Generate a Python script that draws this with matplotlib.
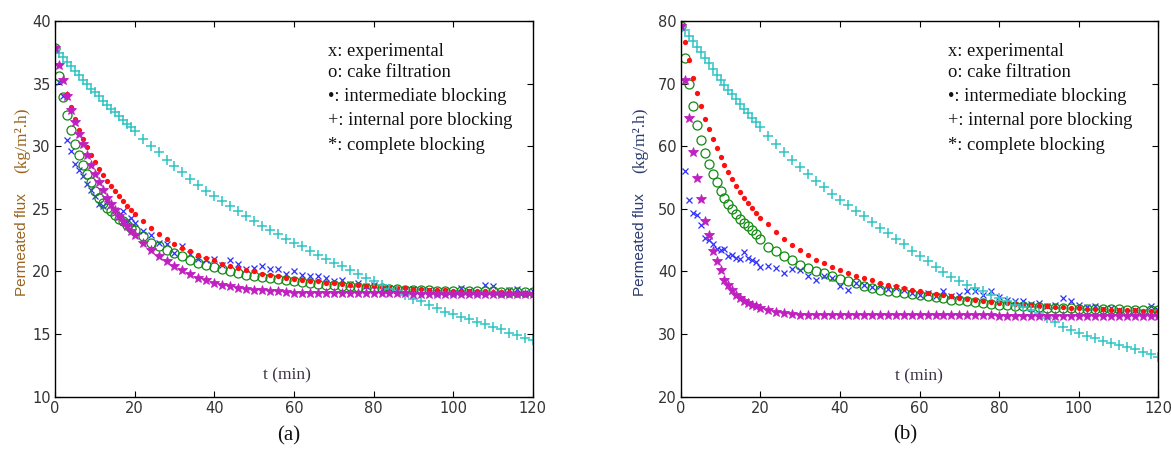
import matplotlib
matplotlib.use("Agg")
import matplotlib.pyplot as plt

# sampling times (min): every minute up to 20, then every 2 minutes
t = list(range(0, 21)) + list(range(22, 121, 2))

# ---- panel (a) ----
exp_a = [37.8, 35.1, 34.0, 30.5, 29.6, 28.6, 28.1, 27.6, 27.0, 26.5, 26.0,
         25.4, 25.2, 25.6, 25.3, 24.9, 24.5, 24.8, 24.0, 24.3, 23.9,
         23.2, 22.9, 22.3, 22.2, 21.5, 22.0, 21.4, 21.0, 20.9, 21.0,
         20.5, 20.9, 20.6, 20.2, 20.3, 20.45, 20.2, 20.2, 19.8, 20.0,
         19.7, 19.6, 19.6, 19.5, 19.2, 19.3, 19.0, 19.1, 18.8, 18.9,
         18.6, 18.7, 18.6, 18.5, 18.6, 18.4, 18.5, 18.3, 18.4, 18.3,
         18.7, 18.4, 18.3, 18.9, 18.8, 18.3, 18.5, 18.6, 18.3, 18.4]
cake_a = [37.8, 35.6, 33.9, 32.5, 31.3, 30.2, 29.3, 28.5, 27.8, 27.1, 26.4,
          25.9, 25.5, 25.1, 24.8, 24.5, 24.2, 24.0, 23.7, 23.5, 23.3,
          22.8, 22.3, 22.0, 21.7, 21.45, 21.2, 20.9, 20.7, 20.5, 20.35,
          20.2, 20.05, 19.9, 19.75, 19.6, 19.55, 19.45, 19.4, 19.3, 19.2,
          19.15, 19.1, 19.0, 18.95, 18.9, 18.85, 18.8, 18.75, 18.7, 18.7,
          18.65, 18.6, 18.6, 18.55, 18.5, 18.5, 18.5, 18.45, 18.45, 18.4,
          18.4, 18.4, 18.4, 18.4, 18.4, 18.35, 18.35, 18.35, 18.35, 18.35]
inter_a = [37.8, 36.5, 35.3, 34.2, 33.1, 32.2, 31.3, 30.6, 29.9, 29.3, 28.7,
           28.2, 27.7, 27.2, 26.8, 26.4, 26.0, 25.6, 25.2, 24.9, 24.6,
           24.0, 23.5, 23.0, 22.6, 22.2, 21.9, 21.6, 21.3, 21.1, 20.9,
           20.6, 20.45, 20.3, 20.1, 20.0, 19.8, 19.7, 19.6, 19.5, 19.4,
           19.3, 19.25, 19.2, 19.1, 19.05, 19.0, 18.95, 18.9, 18.85, 18.8,
           18.75, 18.7, 18.7, 18.65, 18.6, 18.6, 18.55, 18.5, 18.5, 18.45,
           18.45, 18.4, 18.4, 18.4, 18.35, 18.35, 18.35, 18.3, 18.3, 18.3]
pore_a = [37.8, 37.4, 37.1, 36.7, 36.4, 36.0, 35.7, 35.3, 35.0, 34.6, 34.3,
          34.0, 33.6, 33.3, 33.0, 32.7, 32.4, 32.1, 31.8, 31.5, 31.2,
          30.6, 30.0, 29.5, 28.9, 28.4, 27.9, 27.4, 26.9, 26.4, 26.0,
          25.6, 25.2, 24.8, 24.4, 24.0, 23.6, 23.3, 23.0, 22.6, 22.3,
          22.0, 21.6, 21.3, 21.0, 20.7, 20.4, 20.1, 19.8, 19.5, 19.2,
          18.9, 18.6, 18.4, 18.1, 17.8, 17.6, 17.3, 17.1, 16.8, 16.6,
          16.4, 16.2, 16.0, 15.8, 15.6, 15.4, 15.1, 14.9, 14.7, 14.5]
comp_a = [37.8, 36.5, 35.3, 34.0, 32.9, 31.9, 31.0, 30.2, 29.3, 28.5, 27.8,
          27.1, 26.5, 25.9, 25.4, 24.9, 24.4, 24.0, 23.6, 23.2, 22.9,
          22.25, 21.7, 21.25, 20.8, 20.4, 20.1, 19.8, 19.5, 19.3, 19.1,
          18.95, 18.8, 18.7, 18.6, 18.55, 18.5, 18.45, 18.4, 18.35, 18.3,
          18.3, 18.3, 18.3, 18.3, 18.3, 18.3, 18.25, 18.25, 18.25, 18.25,
          18.25, 18.25, 18.25, 18.25, 18.2, 18.2, 18.2, 18.2, 18.2, 18.2,
          18.2, 18.2, 18.2, 18.2, 18.2, 18.2, 18.2, 18.2, 18.2, 18.2]

# ---- panel (b) ----
exp_b = [79.2, 56.0, 51.4, 49.4, 49.0, 47.4, 45.4, 45.0, 44.4, 43.6, 43.4,
         43.6, 42.5, 42.7, 42.2, 42.0, 43.1, 42.1, 41.8, 41.5, 40.7,
         40.9, 40.6, 39.8, 40.4, 40.3, 39.2, 38.6, 39.3, 39.0, 37.6,
         37.1, 38.1, 37.8, 37.5, 37.6, 37.2, 37.4, 37.1, 36.6, 36.2,
         36.5, 36.1, 36.9, 36.0, 36.3, 36.9, 36.8, 36.2, 36.9, 35.9,
         35.5, 35.2, 35.3, 34.8, 34.9, 34.5, 34.7, 35.8, 35.2, 34.6,
         34.3, 34.4, 34.0, 34.1, 33.8, 33.3, 33.9, 33.6, 34.5, 33.9]
cake_b = [79.2, 74.0, 69.9, 66.4, 63.4, 61.0, 58.9, 57.1, 55.6, 54.2, 52.9,
          51.8, 50.8, 49.9, 49.1, 48.4, 47.8, 47.2, 46.6, 45.9, 45.2,
          43.9, 43.2, 42.5, 41.8, 41.1, 40.6, 40.1, 39.7, 39.2, 38.8,
          38.4, 38.1, 37.7, 37.4, 37.1, 36.9, 36.7, 36.5, 36.35, 36.2,
          36.0, 35.9, 35.7, 35.5, 35.4, 35.3, 35.1, 35.0, 34.8, 34.7,
          34.6, 34.5, 34.4, 34.35, 34.3, 34.2, 34.15, 34.1, 34.1, 34.05,
          34.0, 34.0, 34.0, 33.95, 33.95, 33.9, 33.9, 33.85, 33.85, 33.8]
inter_b = [79.2, 76.6, 73.7, 70.9, 68.5, 66.4, 64.4, 62.7, 61.1, 59.7, 58.3,
           57.0, 55.9, 54.8, 53.7, 52.7, 51.8, 51.0, 50.2, 49.4, 48.6,
           47.5, 46.3, 45.1, 44.2, 43.4, 42.7, 41.9, 41.3, 40.7, 40.2,
           39.8, 39.3, 39.0, 38.6, 38.2, 37.9, 37.6, 37.3, 37.0, 36.8,
           36.6, 36.4, 36.2, 36.0, 35.8, 35.6, 35.4, 35.3, 35.1, 35.0,
           34.9, 34.8, 34.7, 34.6, 34.5, 34.4, 34.35, 34.3, 34.2, 34.1,
           34.05, 34.0, 33.95, 33.9, 33.85, 33.8, 33.8, 33.75, 33.7, 33.7]
pore_b = [79.2, 78.5, 77.6, 76.8, 75.9, 75.0, 74.1, 73.2, 72.3, 71.4, 70.6,
          69.8, 69.0, 68.3, 67.5, 66.8, 66.0, 65.3, 64.5, 63.8, 63.1,
          61.7, 60.3, 59.0, 57.8, 56.6, 55.5, 54.4, 53.4, 52.4, 51.4,
          50.6, 49.7, 48.8, 47.9, 47.0, 46.1, 45.2, 44.3, 43.3, 42.5,
          41.6, 40.7, 39.9, 39.1, 38.4, 37.8, 37.3, 36.8, 36.2, 35.7,
          35.2, 34.7, 34.3, 33.8, 33.3, 32.6, 31.9, 31.2, 30.7, 30.2,
          29.7, 29.3, 28.9, 28.6, 28.3, 28.0, 27.6, 27.2, 26.8, 26.4]
comp_b = [79.2, 70.5, 64.5, 59.0, 54.9, 51.6, 48.0, 45.8, 43.2, 41.6, 40.3,
          38.7, 37.8, 37.0, 36.2, 35.7, 35.3, 35.0, 34.7, 34.45, 34.2,
          33.8, 33.5, 33.3, 33.2, 33.1, 33.1, 33.05, 33.0, 33.0, 33.0,
          33.0, 33.0, 33.0, 33.0, 33.0, 33.0, 33.0, 33.0, 33.0, 33.0,
          33.0, 33.0, 33.0, 33.0, 33.0, 33.0, 33.0, 33.0, 33.0, 32.95,
          32.95, 32.95, 32.95, 32.95, 32.95, 32.95, 32.95, 32.9, 32.9, 32.9,
          32.9, 32.9, 32.9, 32.9, 32.9, 32.9, 32.9, 32.9, 32.9, 32.9]

legend_lines = ["x: experimental", "o: cake filtration", "\u2022: intermediate blocking",
                "+: internal pore blocking", "*: complete blocking"]
legend_y = [0.918, 0.863, 0.800, 0.736, 0.669]  # axes fraction

BLUE = "#3030ff"
GREEN = "#108a10"
RED = "#ff1010"
CYAN = "#30c4c4"
MAGENTA = "#c020c0"


def draw_panel(ax, exp, cake, inter, pore, comp, ylim, yticks):
    ax.plot(t, exp, ls="none", marker="x", ms=4.5, mew=0.9, color=BLUE)
    ax.plot(t, cake, ls="none", marker="o", ms=6.5, mew=0.9, mfc="none", mec=GREEN)
    ax.plot(t, inter, ls="none", marker="o", ms=3.8, mew=0, color=RED)
    ax.plot(t, pore, ls="none", marker="+", ms=7.5, mew=1.1, color=CYAN)
    ax.plot(t, comp, ls="none", marker="*", ms=7.5, mew=0.6, color=MAGENTA)
    ax.set_xlim(0, 120)
    ax.set_ylim(*ylim)
    ax.set_xticks(range(0, 121, 20))
    ax.set_yticks(yticks)
    ax.tick_params(direction="in", top=True, right=True, length=4,
                   labelsize=10.5, labelcolor="#333333", pad=3)
    for s in ax.spines.values():
        s.set_linewidth(1.0)


fig = plt.figure(figsize=(11.71, 4.49), dpi=100)
ax_a = fig.add_axes([0.0470, 0.1165, 0.408, 0.837])
ax_b = fig.add_axes([0.5813, 0.1165, 0.408, 0.837])

draw_panel(ax_a, exp_a, cake_a, inter_a, pore_a, comp_a, (10, 40), range(10, 41, 5))
draw_panel(ax_b, exp_b, cake_b, inter_b, pore_b, comp_b, (20, 80), range(20, 81, 10))

serif = ["Liberation Serif", "DejaVu Serif"]

for ax, lx in ((ax_a, 0.571), (ax_b, 0.560)):
    for line, y in zip(legend_lines, legend_y):
        ax.text(lx, y, line, transform=ax.transAxes, family=serif, fontsize=13.3,
                va="center", ha="left", color="#111111")

# axis titles placed as free text, like the original
fig.text(287 / 1171, 1 - 375 / 449, "t (min)", family=serif, fontsize=12.5,
         ha="center", va="center", color="#3a3040")
fig.text(919 / 1171, 1 - 376 / 449, "t (min)", family=serif, fontsize=12.5,
         ha="center", va="center", color="#3a3040")

for xpix, col in ((22, "#9a6420"), (640, "#2c3c70")):
    fig.text(xpix / 1171, 1 - 245 / 449, "Permeated flux", fontsize=11,
             rotation=90, ha="center", va="center", color=col,
             family=["Liberation Sans", "DejaVu Sans"])
    fig.text(xpix / 1171, 1 - 140 / 449, "(kg/m\u00b2.h)", fontsize=12.5,
             rotation=90, ha="center", va="center", color=col, family=serif)

fig.text(289 / 1171, 1 - 436 / 449, "(a)", family=serif, fontsize=15,
         ha="center", va="center", color="#111111")
fig.text(905 / 1171, 1 - 435 / 449, "(b)", family=serif, fontsize=15,
         ha="center", va="center", color="#111111")

fig.savefig("out.png", dpi=100)
